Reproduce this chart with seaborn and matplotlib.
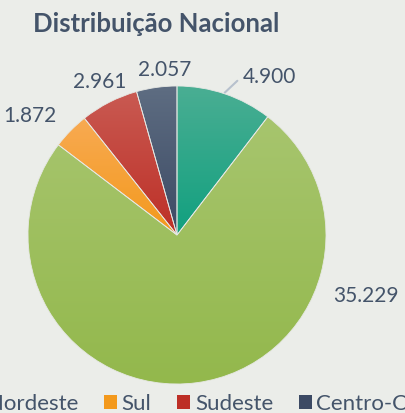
import numpy as np
import matplotlib
matplotlib.use("Agg")
import matplotlib.pyplot as plt
from matplotlib.colors import LinearSegmentedColormap
import seaborn as sns

sns.set_style("white")
plt.rcParams['font.family'] = ['Lato', 'DejaVu Sans']

regions = ['Norte', 'Nordeste', 'Sul', 'Sudeste', 'Centro-Oeste']
values = [4900, 35229, 1872, 2961, 2057]
value_labels = ['4.900', '35.229', '1.872', '2.961', '2.057']

# slice colours (top, bottom of the vertical gradient)
grad_colors = [('#4aae93', '#11a07f'),
               ('#a7c56e', '#93b84c'),
               ('#f8aa52', '#f3991c'),
               ('#c95a52', '#bd2f26'),
               ('#5e6d82', '#3c4a64')]
BG = '#ebede9'
TXT = '#44546a'

# label placement (data units, pie radius = 1)
label_pos = [(0.62, 1.06), (1.27, -0.41), (-0.99, 0.80), (-0.52, 1.03), (-0.08, 1.11)]

fig = plt.figure(figsize=(4.05, 4.13), dpi=100, facecolor=BG)
cx, cy, r = 177, 235, 149
ax = fig.add_axes([(cx - r) / 405, (413 - cy - r) / 413, 2 * r / 405, 2 * r / 413])
ax.set_facecolor(BG)

wedges, _ = ax.pie(values, startangle=90, counterclock=False,
                   colors=[c[1] for c in grad_colors],
                   wedgeprops=dict(edgecolor='none'))

grad = np.linspace(0, 1, 256).reshape(-1, 1)
for w, (top, bot) in zip(wedges, grad_colors):
    ext = w.get_path().get_extents()
    cmap = LinearSegmentedColormap.from_list('g', [top, bot])
    im = ax.imshow(grad, cmap=cmap, aspect='auto', interpolation='bilinear',
                   extent=[ext.x0, ext.x1, ext.y0, ext.y1], zorder=2)
    im.set_clip_path(w)
    w.set_facecolor('none')

# thin separators like the original
for w in wedges:
    w.set_edgecolor('#e6e8e4')
    w.set_linewidth(0.6)
    w.set_zorder(3)

ax.set_xlim(-1, 1)
ax.set_ylim(-1, 1)
ax.set_aspect('auto')
ax.axis('off')

for (x, y), lab in zip(label_pos, value_labels):
    ax.text(x, y, lab, ha='center', va='center', fontsize=15, color=TXT, clip_on=False)

# leader line for the first label
ax.plot([0.32, 0.405], [0.955, 1.035], color='#b7c1cd', lw=1.5, clip_on=False)

fig.text(0.385, 0.943, 'Distribuição Nacional', ha='center', va='center',
         fontsize=18.5, fontweight='bold', color=TXT)

leg = fig.legend(wedges, regions, loc='center', bbox_to_anchor=(0.395, 0.022),
                 ncol=5, frameon=False, fontsize=16, handlelength=0.6, handleheight=0.6,
                 handletextpad=0.2, columnspacing=1.15, labelcolor=TXT)
for h, (top, bot) in zip(leg.legend_handles, grad_colors):
    h.set_facecolor(bot)
    h.set_edgecolor('none')

fig.savefig('out.png', dpi=100, facecolor=BG)
